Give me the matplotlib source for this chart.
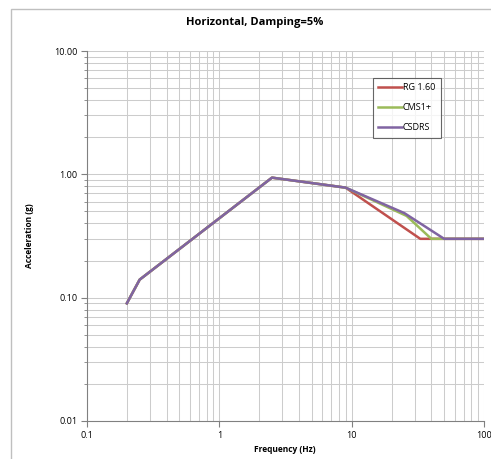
import matplotlib.pyplot as plt
from matplotlib.patches import Rectangle
from matplotlib.ticker import FixedLocator, NullFormatter

plt.rcParams['font.family'] = ['Open Sans', 'DejaVu Sans']

# Spectra (frequency in Hz, acceleration in g)
rg160_freq = [0.2, 0.25, 2.5, 9.0, 33.0, 100.0]
rg160_acc = [0.09, 0.14, 0.94, 0.78, 0.30, 0.30]

cms1_freq = [0.2, 0.25, 2.5, 9.0, 26.0, 40.0, 100.0]
cms1_acc = [0.09, 0.14, 0.94, 0.78, 0.46, 0.30, 0.30]

csdrs_freq = [0.2, 0.25, 2.5, 9.0, 25.0, 50.0, 100.0]
csdrs_acc = [0.09, 0.14, 0.94, 0.78, 0.485, 0.30, 0.30]

series_names = ["RG 1.60", "CMS1+", "CSDRS"]
series_colors = ["#c0504d", "#9bbb59", "#8064a2"]

x_ticks = [0.1, 1, 10, 100]
x_tick_labels = ["0.1", "1", "10", "100"]
y_ticks = [0.01, 0.1, 1, 10]
y_tick_labels = ["0.01", "0.10", "1.00", "10.00"]

W, H = 491, 459
fig = plt.figure(figsize=(W / 100, H / 100), dpi=100)

# outer chart frame (runs off the right/bottom edge)
fig.patches.append(Rectangle((11 / W, -0.1), 1.2, 1 - 9 / H + 0.1,
                             transform=fig.transFigure, fill=False,
                             edgecolor="#bfbfbf", linewidth=1.0))

ax = fig.add_axes([87 / W, 1 - 421 / H, (484 - 87) / W, (421 - 51) / H])
ax.set_xscale("log")
ax.set_yscale("log")
ax.set_xlim(0.1, 100)
ax.set_ylim(0.01, 10)

minor = [m * 10 ** e for e in range(-3, 2) for m in range(2, 10)]
ax.xaxis.set_major_locator(FixedLocator(x_ticks))
ax.xaxis.set_minor_locator(FixedLocator(minor))
ax.yaxis.set_major_locator(FixedLocator(y_ticks))
ax.yaxis.set_minor_locator(FixedLocator(minor))
ax.set_xticklabels(x_tick_labels)
ax.set_yticklabels(y_tick_labels)
ax.xaxis.set_minor_formatter(NullFormatter())
ax.yaxis.set_minor_formatter(NullFormatter())

ax.grid(True, which="both", color="#cccccc", linewidth=0.75)
ax.set_axisbelow(True)
for side in ["top", "right"]:
    ax.spines[side].set_visible(False)
for side in ["left", "bottom"]:
    ax.spines[side].set_color("#808080")
    ax.spines[side].set_linewidth(0.8)

ax.tick_params(which="major", length=4, color="#808080", labelsize=6.5,
               direction="out", pad=3)
ax.tick_params(axis="y", which="minor", length=2.5, color="#808080")
ax.tick_params(axis="x", which="minor", length=0)

for fx, fy, name, col in zip([rg160_freq, cms1_freq, csdrs_freq],
                             [rg160_acc, cms1_acc, csdrs_acc],
                             series_names, series_colors):
    ax.plot(fx, fy, color=col, linewidth=1.8, label=name, solid_joinstyle="round")

leg = ax.legend(loc="upper left", bbox_to_anchor=((373 - 87) / (484 - 87), 1 - (78 - 51) / 370),
                fontsize=6.5, frameon=True, fancybox=False, handlelength=2.6,
                handletextpad=0.1, labelspacing=1.2, borderpad=0.6,
                borderaxespad=0)
leg.get_frame().set_edgecolor("#404040")
leg.get_frame().set_linewidth(0.8)

fig.text(255 / W, 1 - 23 / H, "Horizontal, Damping=5%", ha="center", va="center",
         fontsize=8, fontweight="bold")
fig.text(285 / W, 1 - 450 / H, "Frequency (Hz)", ha="center", va="center",
         fontsize=6, fontweight="bold")
fig.text(30 / W, 1 - 236 / H, "Acceleration (g)", ha="center", va="center",
         fontsize=6, fontweight="bold", rotation=90)

fig.savefig("out.png", dpi=100)
